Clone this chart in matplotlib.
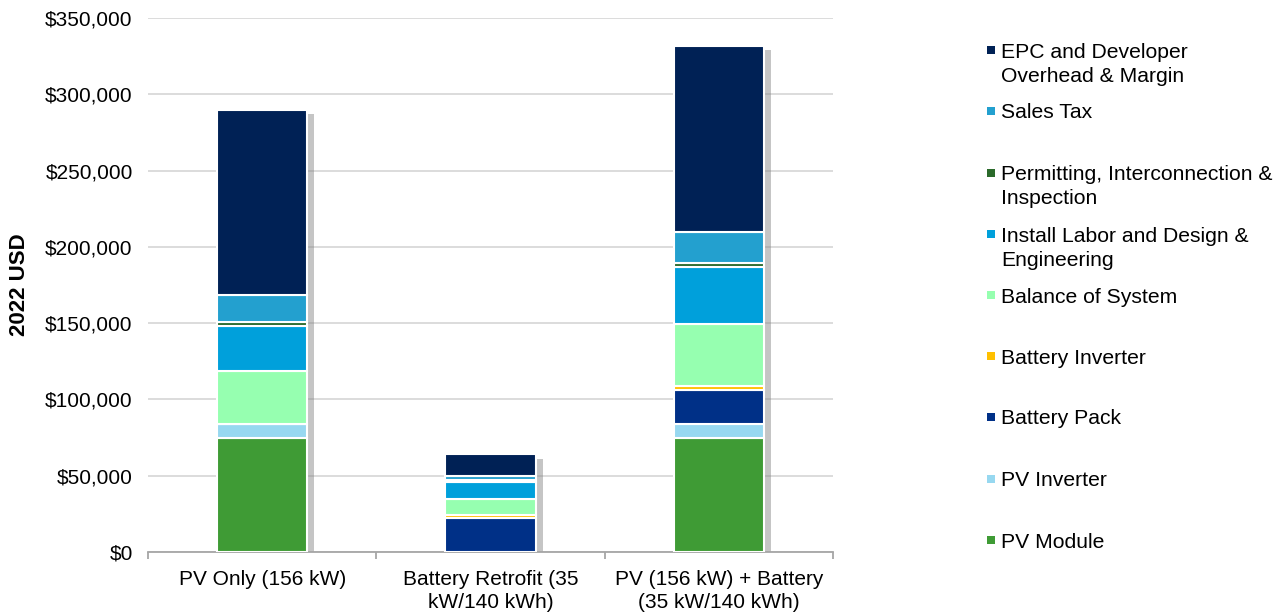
import numpy as np
import matplotlib
matplotlib.use("Agg")
from matplotlib import pyplot as plt
from matplotlib.patches import Rectangle
import matplotlib.patheffects as pe
from matplotlib.ticker import FuncFormatter

plt.rcParams['font.family'] = ['Liberation Sans', 'DejaVu Sans']

categories = ['PV Only (156 kW)', 'Battery Retrofit (35\nkW/140 kWh)', 'PV (156 kW) + Battery\n(35 kW/140 kWh)']

# stack order bottom -> top
components = ['PV Module', 'PV Inverter', 'Battery Pack', 'Battery Inverter', 'Balance of System',
              'Install Labor and Design &\nEngineering', 'Permitting, Interconnection &\nInspection',
              'Sales Tax', 'EPC and Developer\nOverhead & Margin']
colors = ['#3F9B35', '#97D8F0', '#003087', '#FFC000', '#96FFB0',
          '#00A0DB', '#2B6A2B', '#23A0CF', '#002155']

pv_module = [75000, 0, 75000]
pv_inverter = [9000, 0, 9000]
battery_pack = [0, 22000, 22500]
battery_inverter = [0, 2000, 2000]
balance_of_system = [34500, 11000, 41000]
install_labor = [29500, 11000, 37000]
permitting = [2500, 1500, 3000]
sales_tax = [18000, 2500, 20000]
epc_overhead = [121000, 14000, 122000]

series = [pv_module, pv_inverter, battery_pack, battery_inverter, balance_of_system,
          install_labor, permitting, sales_tax, epc_overhead]

W, H = 1288, 613
fig = plt.figure(figsize=(W / 100, H / 100), dpi=100)
ax = fig.add_axes([148 / W, 1 - 552 / H, 685 / W, 534 / H])

x = np.arange(len(categories))
bw = 0.395
totals = np.sum(np.array(series), axis=0)

# shadow behind the whole stack
ax.bar(x, totals, bw, color='white', linewidth=0, zorder=2,
       path_effects=[pe.SimplePatchShadow(offset=(5, -3), shadow_rgbFace='#7f7f7f', alpha=0.45),
                     pe.Normal()])

bottom = np.zeros(len(categories))
for vals, c in zip(series, colors):
    vals = np.array(vals, dtype=float)
    ax.bar(x, vals, bw, bottom=bottom, color=c, edgecolor='white', linewidth=1.5, zorder=3)
    bottom += vals

ax.set_ylim(0, 350000)
ax.set_xlim(-0.5, 2.5)
ax.set_yticks(np.arange(0, 350001, 50000))
ax.yaxis.set_major_formatter(FuncFormatter(lambda v, p: '${:,.0f}'.format(v)))
ax.grid(axis='y', color='#D9D9D9', linewidth=1.3, zorder=0)
ax.set_axisbelow(True)
for s in ['top', 'right', 'left']:
    ax.spines[s].set_visible(False)
ax.spines['bottom'].set_color('#A6A6A6')
ax.spines['bottom'].set_linewidth(1.3)

ax.set_xticks(x)
ax.set_xticklabels(categories, fontsize=15, linespacing=1.25)
ax.set_xticks([-0.5, 0.5, 1.5, 2.5], minor=True)
ax.tick_params(axis='x', which='major', length=0, pad=13)
ax.tick_params(axis='x', which='minor', length=5, color='#A6A6A6', width=1.3)
ax.tick_params(axis='y', length=0, pad=11, labelsize=15)

ax.set_ylabel('2022 USD', fontsize=16, fontweight='bold')
ax.yaxis.set_label_coords(-0.172, 0.5)

# legend (reverse order, manual placement)
leg_y = [50, 111, 173, 234, 295, 356, 417, 479, 540]
for i, (lab, c) in enumerate(zip(components[::-1], colors[::-1])):
    yc = leg_y[i]
    fig.add_artist(Rectangle((987 / W, 1 - (yc + 4) / H), 8 / W, 8 / H,
                             transform=fig.transFigure, color=c, linewidth=0))
    for j, line in enumerate(lab.split('\n')):
        fig.text(1001 / W, 1 - (yc + 24 * j) / H, line, fontsize=15.2,
                 va='center_baseline', ha='left', color='black')

fig.savefig('out.png', dpi=100)
